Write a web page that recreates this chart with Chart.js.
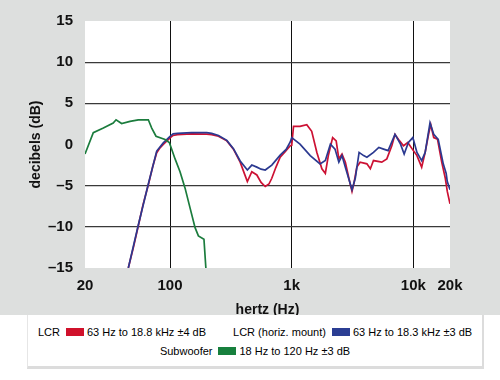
<!DOCTYPE html>
<html>
<head>
<meta charset="utf-8">
<script src="https://cdn.jsdelivr.net/npm/chart.js@4"></script>
<style>
    body { margin: 0; background: #fff; }
    #wrap { position: relative; width: 500px; height: 380px; }
    #chart { position: absolute; left: 0; top: 0; }
    #legend {
        position: absolute; left: 27px; top: 315px; width: 454px; height: 51px;
        background: #fff; border-left: 1px solid #e6e6e6; border-right: 2px solid #dcdcdc; border-bottom: 3px solid #dcdcdc;
        font: 11px "Liberation Sans", Arial, sans-serif; color: #000;
    }
    .row { position: absolute; left: 0; width: 100%; display: flex; justify-content: center; gap: 27px; }
    .item { display: flex; align-items: center; white-space: nowrap; }
    .sw { display: inline-block; width: 18px; height: 8px; margin: 0 3px 0 6px; }
</style>
</head>
<body>
<div id="wrap">
    <canvas id="chart" width="500" height="380"></canvas>
    <div id="legend">
        <div class="row" style="top:11px">
            <div class="item">LCR<span class="sw" style="background:#d0112b"></span>63 Hz to 18.8 kHz ±4 dB</div>
            <div class="item">LCR (horiz. mount)<span class="sw" style="background:#2b3e93"></span>63 Hz to 18.3 kHz ±3 dB</div>
        </div>
        <div class="row" style="top:30px">
            <div class="item">Subwoofer<span class="sw" style="background:#17803d"></span>18 Hz to 120 Hz ±3 dB</div>
        </div>
    </div>
</div>
<script>
// LCR
const lcrFreq = [43, 45.4, 50, 54.8, 60, 66.3, 72, 77.7, 82.7, 88, 100, 106, 115, 150, 200, 220, 250, 293, 332, 377, 410, 432, 470, 517, 560, 606, 650, 686, 740, 804, 880, 973, 1000,
    1035, 1170, 1330, 1460, 1610, 1770, 1890, 2000, 2170, 2320, 2440, 2590, 2760, 2950, 3130, 3250, 3430, 3650, 4150, 4430, 4700, 5500, 6050, 6650, 7060,
    7700, 8300, 9000, 9800, 10700, 11700, 12500, 13400, 13900, 14700, 15800, 17100, 18300, 19000, 19800, 20000];
const lcrDb = [-16, -15, -12.5, -9.9, -7.3, -4.9, -2.7, -1.0, -0.4, 0.0, 0.8, 1.1, 1.2, 1.3, 1.25, 1.2, 1.0, 0.44, -0.56, -2.15, -3.6, -4.5, -3.3, -3.7, -4.6, -5.1, -4.8, -4.1, -2.8, -1.55, -0.9, -0.15, -0.1,
    2.2, 2.2, 2.4, 1.6, -0.96, -2.95, -3.5, -1.35, 0.84, 0.44, -1.75, -1.15, -2.15, -4.1, -5.7, -4.7, -2.75, -2.15, -2.35, -2.95, -1.95, -2.15, -1.75, -0.15, 1.23,
    0.44, -0.15, 0.24, -0.56, -1.35, -2.75, -0.96, 1.43, 2.4, 0.84, 0.63, -2.15, -4.1, -5.7, -6.9, -7.2];

// LCR (horiz. mount)
const horizFreq = [43, 45.4, 54.8, 66.3, 77.7, 88, 100, 106, 115, 150, 200, 220, 250, 293, 332, 377, 432, 470, 517, 560, 606, 686, 804, 900, 973, 1000,
    1170, 1420, 1710, 1890, 2080, 2270, 2440, 2590, 2760, 3130, 3330, 3580, 3900, 4150, 4700, 5200, 5690, 6200, 7060, 7840, 8400, 9100, 9900,
    10700, 11700, 12500, 13700, 14700, 16000, 17600, 18600, 19000, 20000];
const horizDb = [-16, -15, -9.8, -4.8, -0.8, 0.2, 1.0, 1.3, 1.35, 1.45, 1.45, 1.35, 1.1, 0.5, -0.5, -2.0, -3.1, -2.5, -2.75, -3.0, -3.1, -2.5, -1.3, -0.6, 0.3, 0.84,
    0.04, -1.35, -2.35, -1.95, 0.04, -0.56, -2.15, -1.35, -2.75, -5.5, -4.1, -0.96, -1.35, -1.55, -0.96, -0.36, -0.56, -0.75, 1.23, 0.04, -1.15, 0.24, 0.84,
    -0.96, -1.95, -0.96, 2.63, 1.23, 0.63, -2.35, -3.5, -4.5, -5.5];

// Subwoofer
const subFreq = [20, 23.4, 28.3, 34.1, 36, 40, 46.9, 54.8, 66.3, 70.7, 76.7, 91, 98.7, 110, 120.8, 132.9, 146, 160.6, 171, 190, 197, 199];
const subDb = [-1.15, 1.43, 2.0, 2.6, 3.0, 2.55, 2.8, 3.0, 3.0, 2.0, 1.0, 0.6, 0.24, -1.75, -3.3, -5.3, -7.7, -10.1, -11.1, -11.5, -15, -16];

const xTicks = [20, 100, 1000, 10000, 20000];
const xTickLabels = ['20', '100', '1k', '10k', '20k'];
const yTicks = [15, 10, 5, 0, -5, -10, -15];

const pts = (f, d) => f.map((v, i) => ({ x: v, y: d[i] }));

const bgPlugin = {
    id: 'bg',
    beforeDraw(chart) {
        const { ctx, chartArea: a } = chart;
        ctx.save();
        ctx.fillStyle = '#dddfde';
        ctx.fillRect(0, 0, chart.width, 315);
        ctx.fillStyle = '#ffffff';
        ctx.fillRect(a.left, a.top, a.right - a.left, a.bottom - a.top);
        ctx.restore();
    }
};

const tickFont = { family: '"Liberation Sans", Arial, sans-serif', size: 15, weight: 'bold' };
const titleFont = { family: '"Liberation Sans", Arial, sans-serif', size: 14, weight: 'bold' };

new Chart(document.getElementById('chart'), {
    type: 'line',
    data: {
        datasets: [
            { label: 'Subwoofer', data: pts(subFreq, subDb), borderColor: '#1b7c3d', borderWidth: 1.7, pointRadius: 0, tension: 0 },
            { label: 'LCR (horiz. mount)', data: pts(horizFreq, horizDb), borderColor: '#2b3990', borderWidth: 1.7, pointRadius: 0, tension: 0 },
            { label: 'LCR', data: pts(lcrFreq, lcrDb), borderColor: '#cc1133', borderWidth: 1.7, pointRadius: 0, tension: 0 }
        ]
    },
    options: {
        responsive: false,
        devicePixelRatio: 1,
        animation: false,
        layout: { padding: { left: 28, right: 50, top: 17, bottom: 61 } },
        plugins: { legend: { display: false }, tooltip: { enabled: false } },
        scales: {
            x: {
                type: 'logarithmic',
                min: 20,
                max: 20000,
                afterBuildTicks: axis => { axis.ticks = xTicks.map(v => ({ value: v })); },
                afterFit: axis => { axis.height = 51; },
                ticks: {
                    autoSkip: false, maxRotation: 0, padding: 9, color: '#111', font: tickFont,
                    callback: (v, i) => xTickLabels[i]
                },
                grid: {
                    drawTicks: false,
                    lineWidth: 1,
                    color: c => (c.tick && [100, 1000, 10000].includes(c.tick.value)) ? '#111' : 'rgba(0,0,0,0)'
                },
                border: { display: false },
                title: { display: true, text: 'hertz (Hz)', color: '#111', font: titleFont, padding: { top: 0, bottom: 0 } }
            },
            y: {
                min: -15,
                max: 15,
                afterBuildTicks: axis => { axis.ticks = yTicks.map(v => ({ value: v })); },
                afterFit: axis => { axis.width = 57; },
                ticks: {
                    padding: 12, color: '#111', font: tickFont,
                    callback: v => v < 0 ? '\u2013' + Math.abs(v) : String(v)
                },
                grid: {
                    drawTicks: false,
                    lineWidth: 1.2,
                    color: c => (c.tick && [10, 5, -5, -10].includes(c.tick.value)) ? '#3a3a3a' : 'rgba(0,0,0,0)'
                },
                border: { display: false },
                title: { display: true, text: 'decibels (dB)', color: '#111', font: titleFont, padding: { top: 0, bottom: 0 } }
            }
        }
    },
    plugins: [bgPlugin]
});
</script>
</body>
</html>
